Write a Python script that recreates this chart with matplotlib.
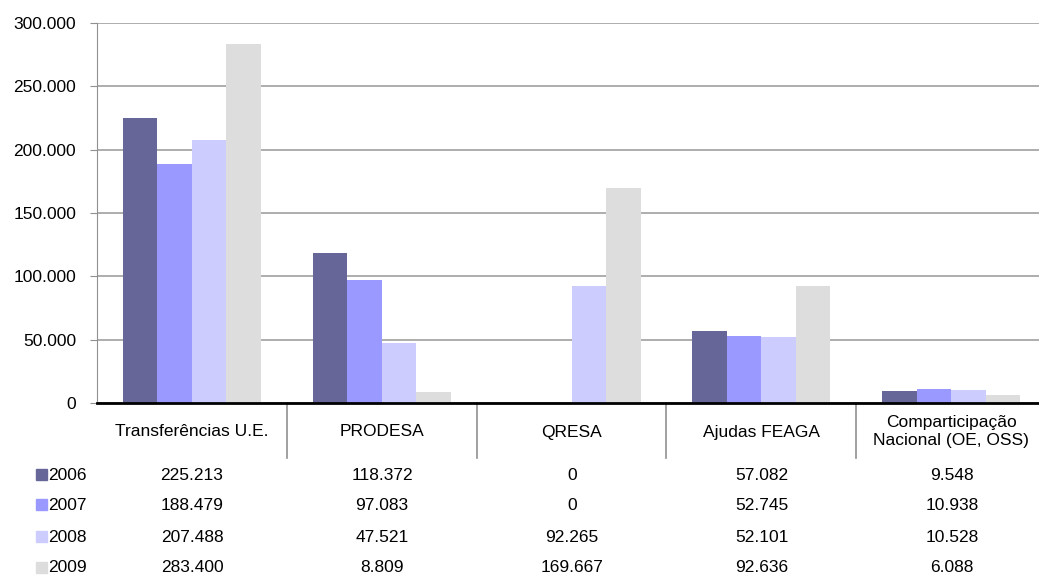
import matplotlib
matplotlib.use("Agg")
import matplotlib.pyplot as plt
import numpy as np

plt.rcParams["font.family"] = ["Liberation Sans", "DejaVu Sans"]

categories = ["Transferências U.E.", "PRODESA", "QRESA", "Ajudas FEAGA",
              "Comparticipação\nNacional (OE, OSS)"]
years = ["2006", "2007", "2008", "2009"]
v2006 = [225213, 118372, 0, 57082, 9548]
v2007 = [188479, 97083, 0, 52745, 10938]
v2008 = [207488, 47521, 92265, 52101, 10528]
v2009 = [283400, 8809, 169667, 92636, 6088]
series = [v2006, v2007, v2008, v2009]
colors = ["#666699", "#9999FF", "#CCCCFF", "#DDDDDD"]

FS = 12.5


def fmt(v):
    return f"{v:,.0f}".replace(",", ".")


W, H = 1039, 576
fig = plt.figure(figsize=(W / 100, H / 100), dpi=100)
# plot area in pixels: x 97..1046, y 23..403
ax = fig.add_axes([97 / W, 1 - 403 / H, (1046 - 97) / W, (403 - 23) / H])

n = len(categories)
x = np.arange(n)
w = 1 / 5.5
offs = [-1.5 * w, -0.5 * w, 0.5 * w, 1.5 * w]
for vals, off, c in zip(series, offs, colors):
    ax.bar(x + off, vals, w, color=c, zorder=2)

ax.set_xlim(-0.5, n - 0.5)
ax.set_ylim(0, 300000)
ticks = np.arange(0, 300001, 50000)
ax.set_yticks(ticks)
ax.set_yticklabels([fmt(t) for t in ticks], fontsize=FS)
ax.tick_params(axis="y", length=5, color="#909090", pad=10)
ax.set_xticks([])
ax.grid(axis="y", color="#A0A0A0", linewidth=1.2, zorder=0)
for s in ["top", "right"]:
    ax.spines[s].set_visible(False)
ax.spines["left"].set_color("#909090")
ax.spines["bottom"].set_color("black")
ax.spines["bottom"].set_linewidth(2)
ax.spines["bottom"].set_zorder(3)

# data table under the chart
tr = ax.get_xaxis_transform()
for i in range(1, n + 1):
    ax.plot([i - 0.5, i - 0.5], [0, -55 / 380], transform=tr,
            color="#909090", lw=1.2, clip_on=False)
for i, cat in enumerate(categories):
    ax.text(i, -29 / 380, cat, transform=tr, ha="center", va="center",
            fontsize=FS, linespacing=1.25)

row_y = [475, 505, 537, 568]
for yr, vals, c, ry in zip(years, series, colors, row_y):
    fy = 1 - ry / H
    fig.patches.append(plt.Rectangle((36 / W, fy - 5 / H), 11 / W, 11 / H,
                                     transform=fig.transFigure, color=c))
    fig.text(48 / W, fy, yr, ha="left", va="center", fontsize=FS)
    for i, v in enumerate(vals):
        xf = (97 + (i + 0.5) * 190) / W
        fig.text(xf, fy, fmt(v), ha="center", va="center", fontsize=FS)

fig.savefig("out.png", dpi=100)
